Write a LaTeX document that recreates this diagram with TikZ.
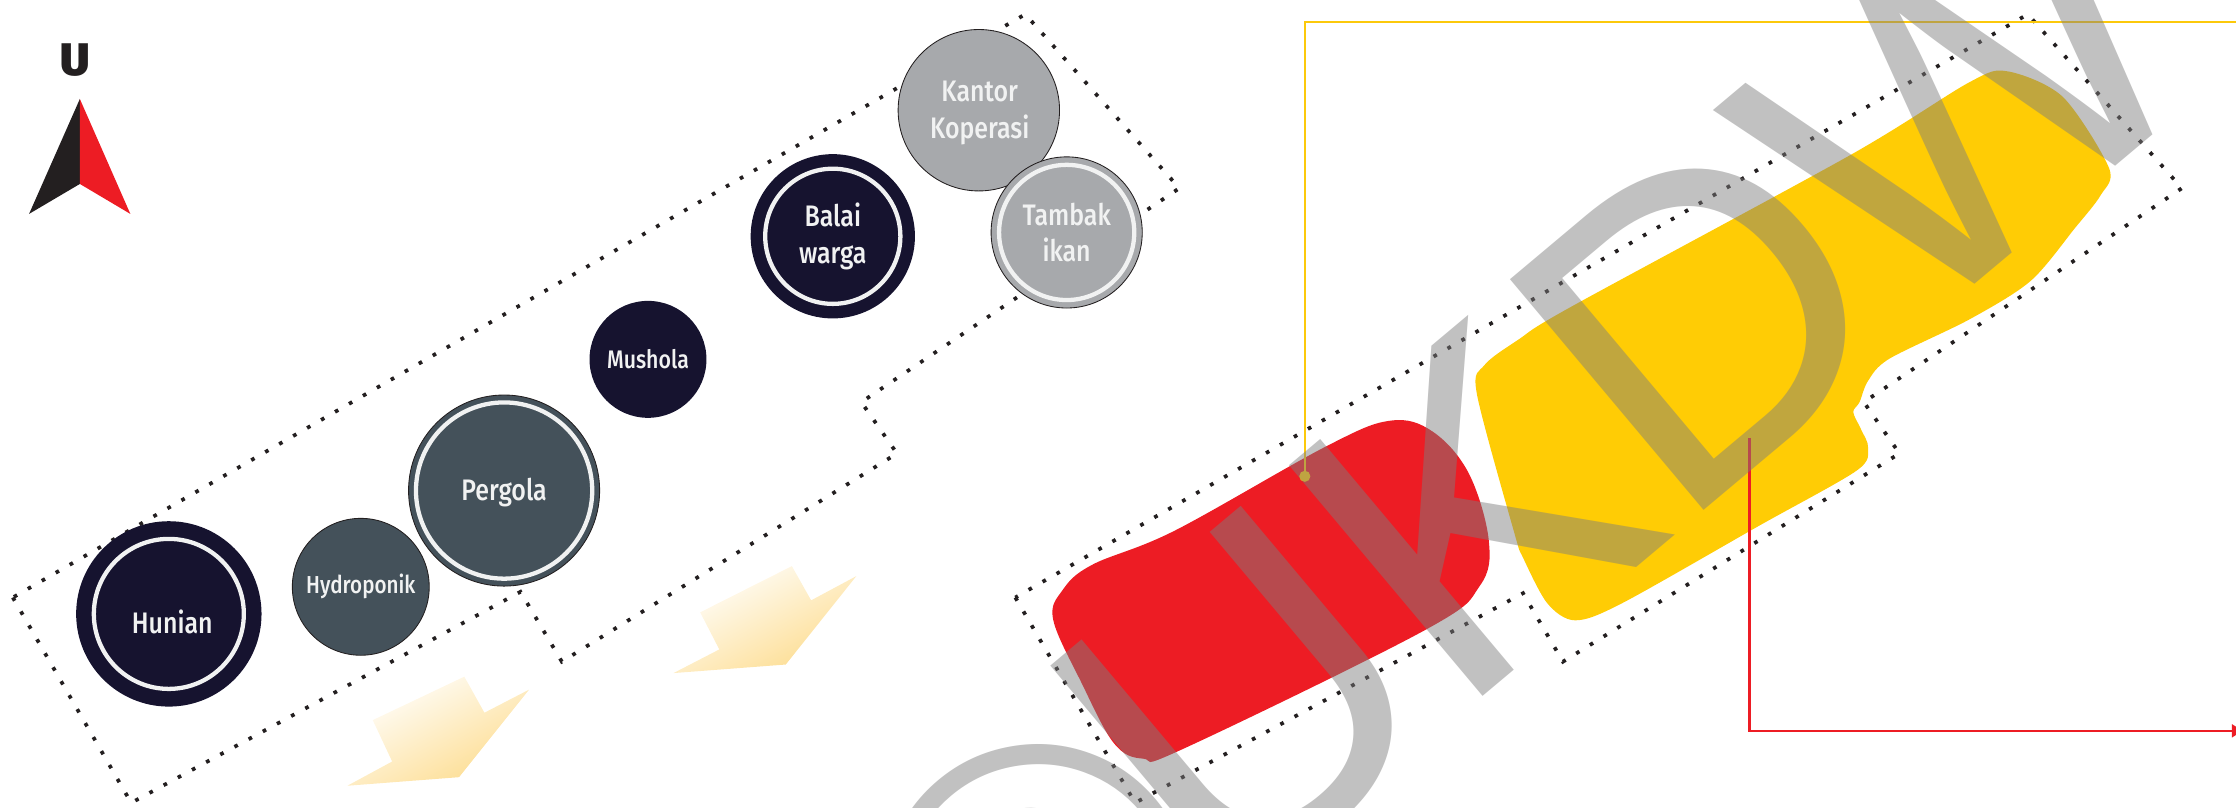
\documentclass[tikz,border=0pt]{standalone}
\usepackage{fontspec}
\setmainfont[FakeStretch=0.84,BoldFont={Fira Sans Medium}]{Fira Sans}
\newfontfamily\wmfont{Liberation Sans}
\newfontfamily\northfont{Fira Sans Black}
\definecolor{inknavy}{HTML}{16132F}
\definecolor{slategrey}{HTML}{44515A}
\definecolor{softgrey}{HTML}{A7A9AC}
\definecolor{inkblack}{HTML}{231F20}
\definecolor{zonered}{HTML}{ED1C24}
\definecolor{zoneyellow}{HTML}{FFCC05}
\definecolor{linegold}{HTML}{FCC90B}
\definecolor{windpale}{HTML}{FDDC8E}
\definecolor{labelwhite}{HTML}{F1F2F2}
\definecolor{markgrey}{RGB}{125,125,125}
\usetikzlibrary{arrows.meta}

\begin{document}
\begin{tikzpicture}[
      x=0.5pt, y=-0.5pt,
      zone/.style={draw=inkblack, line width=1.3pt, dash pattern=on 1.3pt off 4.35pt},
      spot/.style={circle, inner sep=0pt, align=center, text=labelwhite,
                   font=\fontsize{10.4}{12.9}\selectfont\bfseries},
      navyspot/.style={spot, fill=inknavy},
      slatespot/.style={spot, fill=slategrey, draw=inkblack, line width=0.3pt},
      greyspot/.style={spot, fill=softgrey, draw=inkblack, line width=0.3pt},
      ringed/.style={path picture={\draw[labelwhite, line width=1.5pt]
                     (path picture bounding box.center) circle (#1);}},
      spotlabel/.style={text=labelwhite, inner sep=0pt, align=center,
                   font=\fontsize{10.4}{12.9}\selectfont\bfseries},
      wind/.style={top color=white, middle color=windpale!22, bottom color=windpale, shading angle=29},
      link/.style={line width=0.9pt, -{Latex[length=5pt,width=5pt]}}
    ]
    \useasboundingbox (0,0) rectangle (1568,566);
    \clip (0,0) rectangle (1568,566);

    % north mark
    \node[inner sep=0pt, text=inkblack, font=\fontsize{16}{16}\selectfont\northfont] (north) at (52.5,42) {U};
    \fill[inkblack] (56,69.4) -- (20.4,150) -- (56,129) -- cycle;
    \fill[zonered] (56,69.4) -- (91.4,150) -- (56,129) -- cycle;

    % wind arrows
    \shade[wind] (325.6,474.5) -- (339.7,499.8) -- (371,483.6) -- (321.9,545)
      -- (243.6,551) -- (275,534) -- (261.4,505) -- cycle;
    \shade[wind] (555.3,397) -- (568.8,421) -- (600.5,404) -- (551,466)
      -- (472.3,472) -- (504.4,455.4) -- (491,429.4) -- cycle;

    % left: site outline and spots
    \draw[zone] (9,419) -- (92,563) -- (365,415) -- (394,464) -- (629,318)
      -- (604,282) -- (827,132) -- (719,10) -- cycle;
    \node[navyspot, minimum size=65pt, ringed=26.3pt] (hunian) at (118.4,430.5) {};
    \node[spotlabel] (hunianlabel) at (120.8,436) {Hunian};
    \node[slatespot, minimum size=48pt, font=\fontsize{8.6}{10}\selectfont\bfseries] (hydroponik) at (253,411.5) {Hydroponik};
    \node[slatespot, minimum size=67pt, ringed=30.9pt] (pergola) at (353.5,344) {};
    \node[spotlabel] (pergolalabel) at (353.5,345.5) {Pergola};
    \node[navyspot, minimum size=41pt, font=\fontsize{8.9}{10}\selectfont\bfseries] (mushola) at (454.4,252) {Mushola};
    \node[navyspot, minimum size=57.6pt, ringed=23.7pt] (balai) at (584,165.7) {Balai\\warga};
    \node[greyspot, minimum size=56.6pt] (kantor) at (686.4,77.3) {};
    \node[spotlabel] (kantorlabel) at (687,79.5) {Kantor\\Koperasi};
    \node[greyspot, minimum size=53pt, ringed=23.7pt] (tambak) at (748,163) {Tambak\\ikan};

    % right: zones
    \draw[zone] (712,419) -- (796,563) -- (1068,416) -- (1096,464) -- (1332,318)
      -- (1307,282) -- (1530,132) -- (1422,10) -- cycle;
    \fill[zonered] plot[smooth cycle, tension=0.6] coordinates {
      (738.6,434.8) (745,414) (766,396) (824,372) (930,313) (975,295) (1004.7,302.7)
      (1030,332) (1044,379) (1037.6,411) (999,442) (830,525) (801.6,532)
      (781,521) (758.5,479)};
    \fill[zoneyellow] plot[smooth cycle, tension=0.5] coordinates {
      (1407.6,50) (1446.6,68) (1479,118) (1473,137) (1455,160) (1424,197) (1381,224)
      (1325,251.5) (1310,267) (1304,282) (1299.6,289) (1305,301) (1310,314)
      (1302,330) (1233,369) (1137.5,423) (1104.6,435) (1085,423) (1068,391)
      (1062,374) (1035.6,276) (1041,256) (1065,238) (1102,215) (1297.6,108.7)
      (1381,57.7)};

    % callouts
    \node[circle, fill=linegold, inner sep=0pt, minimum size=3.9pt] (golddot) at (915,334) {};
    \coordinate (goldend) at (1578,15.5);
    \coordinate (redstart) at (1227,307);
    \coordinate (redend) at (1575,512.5);
    \draw[link, linegold] (golddot.center) |- (goldend);
    \draw[link, zonered] (redstart) |- (redend);

    % mark laid over everything
    \node[rotate=40, anchor=base west, inner sep=0pt, text=markgrey, text opacity=0.48,
          font=\fontsize{153.5}{153.5}\selectfont\wmfont] (mark) at (702,772)
          {\kern-1.2pt\raisebox{-7pt}{©}\kern-12.4pt U\kern-2.5pt K\kern-1.3pt D\kern-6.3pt W};
  \end{tikzpicture}
\end{document}
